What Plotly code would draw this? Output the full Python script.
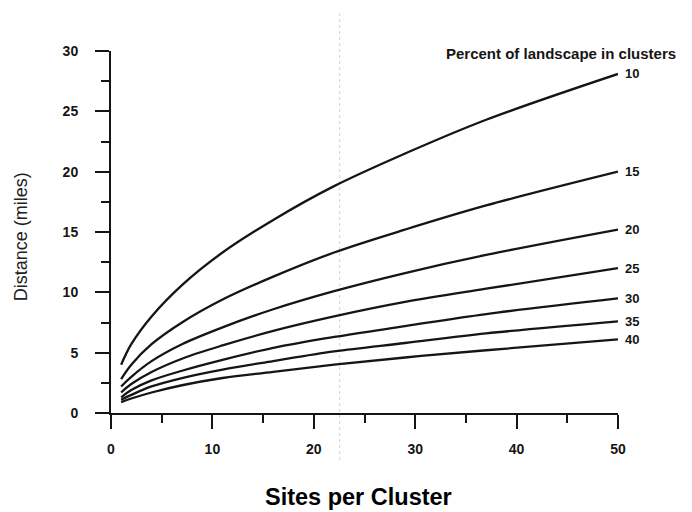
import plotly.graph_objects as go

sites = [1, 2, 4, 7, 11, 16, 22, 29, 37, 50]
pct_labels = ["10", "15", "20", "25", "30", "35", "40"]
dist_10 = [4.0, 5.7, 8.0, 10.6, 13.3, 16.0, 18.8, 21.5, 24.3, 28.1]
dist_15 = [2.8, 4.0, 5.7, 7.5, 9.4, 11.3, 13.3, 15.2, 17.2, 20.0]
dist_20 = [2.2, 3.0, 4.3, 5.7, 7.1, 8.6, 10.1, 11.6, 13.1, 15.2]
dist_25 = [1.7, 2.4, 3.4, 4.5, 5.6, 6.8, 8.0, 9.2, 10.3, 12.0]
dist_30 = [1.3, 1.9, 2.7, 3.5, 4.4, 5.4, 6.3, 7.2, 8.2, 9.5]
dist_35 = [1.1, 1.5, 2.2, 2.9, 3.6, 4.3, 5.1, 5.8, 6.6, 7.6]
dist_40 = [0.9, 1.2, 1.7, 2.3, 2.9, 3.4, 4.0, 4.6, 5.2, 6.1]
x_ticks = [0, 10, 20, 30, 40, 50]
y_ticks = [0, 5, 10, 15, 20, 25, 30]

series = [dist_10, dist_15, dist_20, dist_25, dist_30, dist_35, dist_40]
INK = "#151515"
FONT = "Liberation Sans, Arial, sans-serif"

fig = go.Figure()
for lab, vals in zip(pct_labels, series):
    fig.add_trace(go.Scatter(x=sites, y=vals, mode="lines", name=lab,
                             line=dict(color=INK, width=2.3, shape="spline", smoothing=1.0),
                             showlegend=False, hoverinfo="skip"))
    fig.add_annotation(x=sites[-1], y=vals[-1], xref="x", yref="y", text=lab,
                       showarrow=False, xanchor="left", yanchor="middle", xshift=5,
                       font=dict(family=FONT, size=13, color=INK, weight="bold"))

# faint scan artifact (dotted vertical streak)
fig.add_shape(type="line", xref="paper", yref="paper", x0=0.451, x1=0.451, y0=-0.13, y1=1.11,
              line=dict(color="#d4d4d4", width=1, dash="dot"), layer="below")

fig.add_annotation(xref="paper", yref="paper", x=1.118, y=0.992, text="Percent of landscape in clusters",
                   showarrow=False, xanchor="right", yanchor="middle",
                   font=dict(family=FONT, size=15, color=INK, weight="bold"))
fig.add_annotation(xref="paper", yref="paper", x=0.488, y=-0.232, text="Sites per Cluster",
                   showarrow=False, xanchor="center", yanchor="middle",
                   font=dict(family=FONT, size=23.5, color="#000", weight="bold"))
fig.add_annotation(xref="paper", yref="paper", x=-0.177, y=0.486, text="Distance (miles)",
                   showarrow=False, textangle=-90, xanchor="center", yanchor="middle",
                   font=dict(family=FONT, size=18, color="#222"))

axis_common = dict(showline=True, linecolor=INK, linewidth=2, ticks="outside",
                   tickcolor=INK, tickwidth=2, ticklen=14, showgrid=False, zeroline=False,
                   tickfont=dict(family=FONT, size=14, color=INK, weight="bold"))

fig.update_xaxes(range=[0, 50], tickmode="array", tickvals=x_ticks, ticklabelstandoff=8,
                 minor=dict(dtick=5, tick0=0, ticks="outside", ticklen=8, tickwidth=2, tickcolor=INK),
                 **axis_common)
fig.update_yaxes(range=[0, 30], tickmode="array", tickvals=y_ticks, ticklabelstandoff=14,
                 minor=dict(dtick=2.5, tick0=0, ticks="outside", ticklen=8, tickwidth=2, tickcolor=INK),
                 **axis_common)

# page body has an 8px margin, so the figure is sized to fit the 692x512 window
fig.update_layout(width=684, height=504, margin=dict(l=103, r=74, t=43, b=99, autoexpand=False),
                  paper_bgcolor="white", plot_bgcolor="white",
                  font=dict(family=FONT, color=INK))

fig.write_html("out.html")
